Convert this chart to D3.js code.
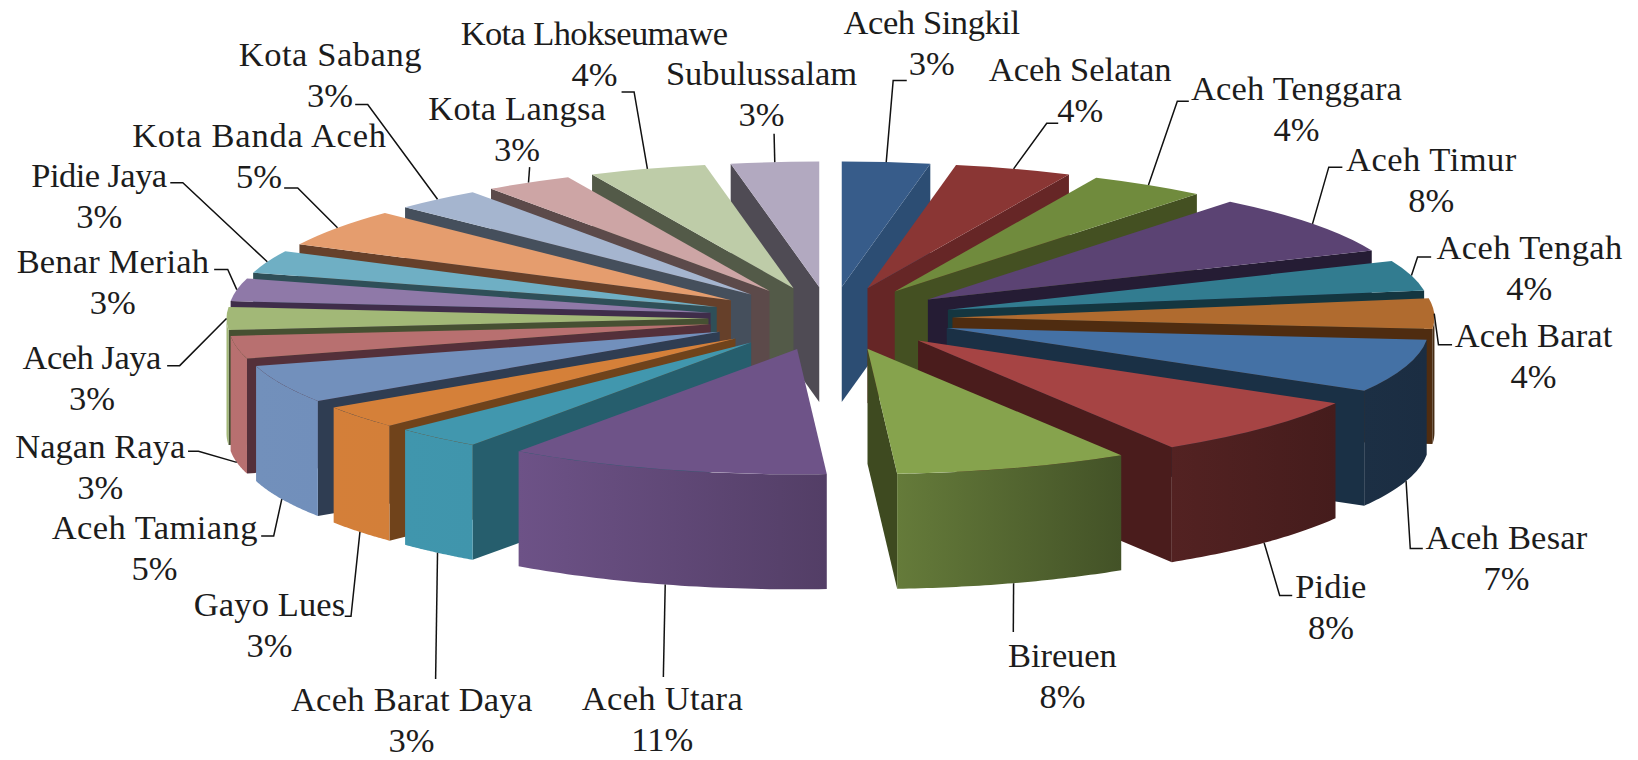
<!DOCTYPE html>
<html>
<head>
<meta charset="utf-8">
<style>
  html, body { margin: 0; background: #fff; }
  text { font-family: "Liberation Serif", serif; font-size: 34.5px; fill: #1c1c1c; text-anchor: middle; }
  .leader { fill: none; stroke: #111; stroke-width: 1.5; }
</style>
</head>
<body>
<div id="chart"></div>
<script src="https://cdn.jsdelivr.net/npm/d3@7"></script>
<script>
var categories = ['Aceh Singkil','Aceh Selatan','Aceh Tenggara','Aceh Timur','Aceh Tengah','Aceh Barat','Aceh Besar','Pidie','Bireuen','Aceh Utara','Aceh Barat Daya','Gayo Lues','Aceh Tamiang','Nagan Raya','Aceh Jaya','Benar Meriah','Pidie Jaya','Kota Banda Aceh','Kota Sabang','Kota Langsa','Kota Lhokseumawe','Subulussalam'];
var percents = [3,4,4,8,4,4,7,8,8,11,3,3,5,3,3,3,3,5,3,3,4,3];

var topColors = ['#375C8A','#8A3634','#708B3D','#5B4373','#327C90','#B06B2F','#4471A5','#A64444','#86A34D','#6E5388','#4197AE','#D58039','#7290BC','#B87070','#A2B877','#8F79A8','#6FAFC4','#E59D6E','#A5B5CF','#CDA5A5','#BECCA8','#B2A9C0'];
var wallColors = ['#2C4D73','#662626','#445022','#251C34','#143640','#4F2C10','#1A3045','#4A1C1C','#3E4A20','#54406A','#265E6D','#70431B','#2F3D52','#54303A','#465032','#3F2D4A','#2F4F58','#66402A','#454F5C','#5C4A4A','#535A48','#4F4B54'];

// label centre of the first text line, read in the shrunk reference (1568 wide)
var labelSpots = [[892,22],[1034,67],[1241,85],[1370,153],[1464,237],[1468,322],[1442,515],[1274,562],[1017,628],[634,669],[394,670],[258,579],[148,505],[96,428],[88,343],[108,251],[95,168],[248,130],[316,53],[495,104],[569,33],[729,71]];
// width of the first text line, same coordinates
var labelWidths = [169,175,202,163,178,151,155,68,104,154,231,145,197,163,133,184,130,243,175,170,256,183];
// leader bends, same coordinates
var leaderBends = [
  [[855,77],[868,77]],[[1002,118],[1013,118]],[[1127,97],[1138,97]],[[1272,160],[1285,160]],
  [[1357,246],[1370,246]],[[1377,330],[1390,330]],[[1350,525],[1362,525]],[[1225,570],[1237,570]],
  [[970,605]],[[635,648]],[[417,650]],[[336,590],[330,590]],[[262,513],[250,513]],
  [[190,432],[180,432]],[[172,350],[160,350]],[[218,258],[205,258]],[[175,175],[163,175]],
  [[285,180],[272,180]],[[352,100],[340,100]],[[507,160]],[[607,88],[595,88]],[[741,128]]
];

var width = 1638, height = 760, refScale = 1638 / 1568;
var cx = 830.5, cy = 318.5;
var radius = 482, explode = 122, tilt = 0.26, depth = 115;

var svg = d3.select('#chart').append('svg')
  .attr('width', width)
  .attr('height', height)
  .style('display', 'block');
var defs = svg.append('defs');

var pie = d3.pie().sort(null);
var slices = pie(percents);
var arc = d3.arc().innerRadius(0).outerRadius(radius);
var line = d3.line();

// darkening of the outer wall as it turns round the front of the pie
var shade = d3.scaleLinear()
  .domain([90, 130, 148, 176, 215, 270].map(function(d){ return d * Math.PI / 180; }))
  .range([0.4, 0.42, 0.5, 0.75, 0.99, 1]);

var onFlat = function(origin, angle, r){
  return [origin[0] + r * Math.sin(angle), origin[1] - r * tilt * Math.cos(angle)];
};

slices.forEach(function(d){
  d.mid = (d.startAngle + d.endAngle) / 2;
  d.apex = onFlat([cx, cy], d.mid, explode);
});

var radialWall = function(d, angle){
  var p = onFlat(d.apex, angle, radius);
  return line([d.apex, p, [p[0], p[1] + depth], [d.apex[0], d.apex[1] + depth]]) + 'Z';
};

var draw = slices.slice().sort(function(a, b){ return a.apex[1] - b.apex[1]; });

draw.forEach(function(d){
  var i = d.index;
  var g = svg.append('g').attr('class', 'slice');

  if (Math.sin(d.endAngle) > 0) {
    g.append('path').attr('d', radialWall(d, d.endAngle)).attr('fill', wallColors[i]);
  }
  if (Math.sin(d.startAngle) < 0) {
    g.append('path').attr('d', radialWall(d, d.startAngle)).attr('fill', wallColors[i]);
  }

  var from = Math.max(d.startAngle, Math.PI / 2), to = Math.min(d.endAngle, 3 * Math.PI / 2);
  if (to > from) {
    var steps = d3.range(0, 41).map(function(k){ return from + (to - from) * k / 40; });
    var upper = steps.map(function(a){ return onFlat(d.apex, a, radius); });
    var lower = upper.slice().reverse().map(function(p){ return [p[0], p[1] + depth]; });
    var xs = d3.extent(upper, function(p){ return p[0]; });
    var mix = d3.interpolateRgb('#000', topColors[i]);
    var grad = defs.append('linearGradient')
      .attr('id', 'wall' + i)
      .attr('gradientUnits', 'userSpaceOnUse')
      .attr('x1', xs[0]).attr('x2', xs[1]).attr('y1', 0).attr('y2', 0);
    grad.append('stop').attr('offset', 0).attr('stop-color', mix(shade(to)));
    grad.append('stop').attr('offset', 1).attr('stop-color', mix(shade(from)));
    g.append('path').attr('d', line(upper.concat(lower)) + 'Z').attr('fill', 'url(#wall' + i + ')');
  }

  g.append('path')
    .attr('d', arc(d))
    .attr('transform', 'translate(' + d.apex[0] + ',' + d.apex[1] + ') scale(1,' + tilt + ')')
    .attr('fill', topColors[i]);
});

// leaders
slices.forEach(function(d){
  var p = onFlat(d.apex, d.mid, radius);
  if (Math.cos(d.mid) < -0.05) p = [p[0], p[1] + depth];
  var pts = [p].concat(leaderBends[d.index].map(function(b){ return [b[0] * refScale, b[1] * refScale]; }));
  svg.append('path').attr('class', 'leader').attr('d', line(pts));
});

// labels
slices.forEach(function(d){
  var i = d.index;
  var t = svg.append('text')
    .attr('x', labelSpots[i][0] * refScale)
    .attr('y', labelSpots[i][1] * refScale + 11);
  t.append('tspan')
    .attr('textLength', labelWidths[i] * refScale)
    .text(categories[i]);
  t.append('tspan')
    .attr('x', labelSpots[i][0] * refScale)
    .attr('dy', 41)
    .text(percents[i] + '%');
});
</script>
</body>
</html>
